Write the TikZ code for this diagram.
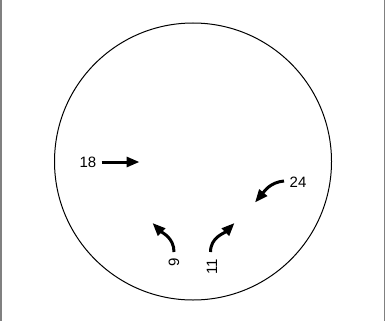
\documentclass[tikz,border=0pt]{standalone}
\usepackage{fontspec}
\setmainfont{Liberation Sans}
\usetikzlibrary{arrows.meta}
\begin{document}
\begin{tikzpicture}[x=1pt,y=-1pt,
  lbl/.style={inner sep=0pt,font=\fontsize{15}{15}\selectfont},
  arr/.style={line width=3pt,-{Triangle[length=13pt,width=10pt]}},
  frameline/.style={draw=black!50,line width=1.6pt}]
\useasboundingbox (0,0) rectangle (390,321);
\draw[frameline] (0.8,0) -- (0.8,321);
\draw[frameline] (384.5,0) -- (384.5,321);
\node[draw,circle,line width=1pt,minimum size=277pt,inner sep=0pt] (c) at (193,161.5) {};
% labels
\node[lbl] (l18) at (88,162.5) {18};
\node[lbl] (l24) at (298,182) {24};
\node[lbl,rotate=90] (l9) at (174,262) {9};
\node[lbl,rotate=90] (l11) at (212,267) {11};
% arrow ends
\coordinate (s18) at (101.5,162);
\coordinate (e18) at (139.5,162);
\coordinate (s24) at (284,181);
\coordinate (e24) at (255,202.5);
\coordinate (s9) at (174,252);
\coordinate (e9) at (152.5,223);
\coordinate (s11) at (210.5,252);
\coordinate (e11) at (234.5,223);
\draw[arr] (s18) -- (e18);
\draw[arr] (s24) to[out=185,in=50] (e24);
\draw[arr] (s9) to[out=90,in=-45] (e9);
\draw[arr] (s11) to[out=90,in=225] (e11);
\end{tikzpicture}
\end{document}
